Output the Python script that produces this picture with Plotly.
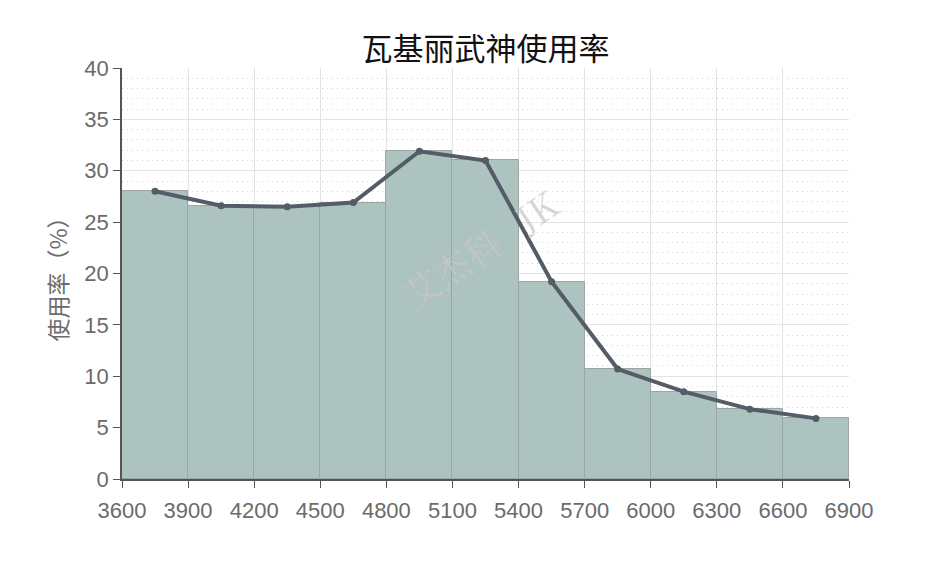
import plotly.graph_objects as go

bin_edges = [3600, 3900, 4200, 4500, 4800, 5100, 5400, 5700, 6000, 6300, 6600, 6900]
bin_centers = [3750, 4050, 4350, 4650, 4950, 5250, 5550, 5850, 6150, 6450, 6750]
usage = [28.0, 26.6, 26.5, 26.9, 31.9, 31.0, 19.2, 10.7, 8.5, 6.8, 5.9]
y_ticks = [0, 5, 10, 15, 20, 25, 30, 35, 40]

title_text = "瓦基丽武神使用率"
y_title = "使用率（%）"
watermark = "艾杰科   JK"

fig = go.Figure()
fig.add_trace(go.Bar(
    x=bin_centers, y=usage, width=300,
    marker=dict(color="#adc3bf", line=dict(color="#9aa6a4", width=1)),
    hoverinfo="skip", showlegend=False,
))
fig.add_trace(go.Scatter(
    x=bin_centers, y=usage, mode="lines+markers",
    line=dict(color="#535c67", width=4),
    marker=dict(color="#535c67", size=7),
    showlegend=False,
))

tickfont = dict(family="Liberation Sans, Arial, sans-serif", size=22, color="#6b6b6b")

# page body adds an 8px offset, so margins are shifted accordingly
fig.update_layout(
    width=938, height=563,
    margin=dict(l=114, r=97, t=60, b=92, autoexpand=False),
    paper_bgcolor="white", plot_bgcolor="white",
    bargap=0,
    title=dict(text=title_text, x=(114 + 841) / 2 / 938, xanchor="center",
               y=1 - 41 / 563, yanchor="middle",
               font=dict(family="Noto Sans CJK SC", size=31, color="#111111")),
    xaxis=dict(range=[3600, 6900], tickvals=bin_edges, ticktext=[str(v) for v in bin_edges],
               ticks="outside", ticklen=7, tickcolor="#555555", automargin=False,
               ticklabelstandoff=4,
               showline=True, linecolor="#555555", linewidth=1.5,
               showgrid=True, gridcolor="#e3e3e3", gridwidth=1,
               tickfont=tickfont, zeroline=False),
    yaxis=dict(range=[0, 40], tickvals=y_ticks, automargin=False,
               ticks="outside", ticklen=7, tickcolor="#555555",
               showline=True, linecolor="#555555", linewidth=1.5,
               showgrid=True, gridcolor="#e3e3e3", gridwidth=1,
               minor=dict(dtick=1, showgrid=True, gridcolor="#d2d2d2", griddash="1px,4px", gridwidth=1),
               tickfont=tickfont, zeroline=False,
               title=dict(text=y_title, standoff=10,
                          font=dict(family="Noto Sans CJK SC", size=23, color="#6b6b6b"))),
)

fig.add_annotation(
    text=watermark, x=5225, y=22.5, xref="x", yref="y",
    showarrow=False, textangle=-34,
    font=dict(family="Noto Serif CJK SC, Noto Sans CJK SC", size=36, color="rgba(200,200,200,0.75)"),
)

fig.write_html("out.html")
